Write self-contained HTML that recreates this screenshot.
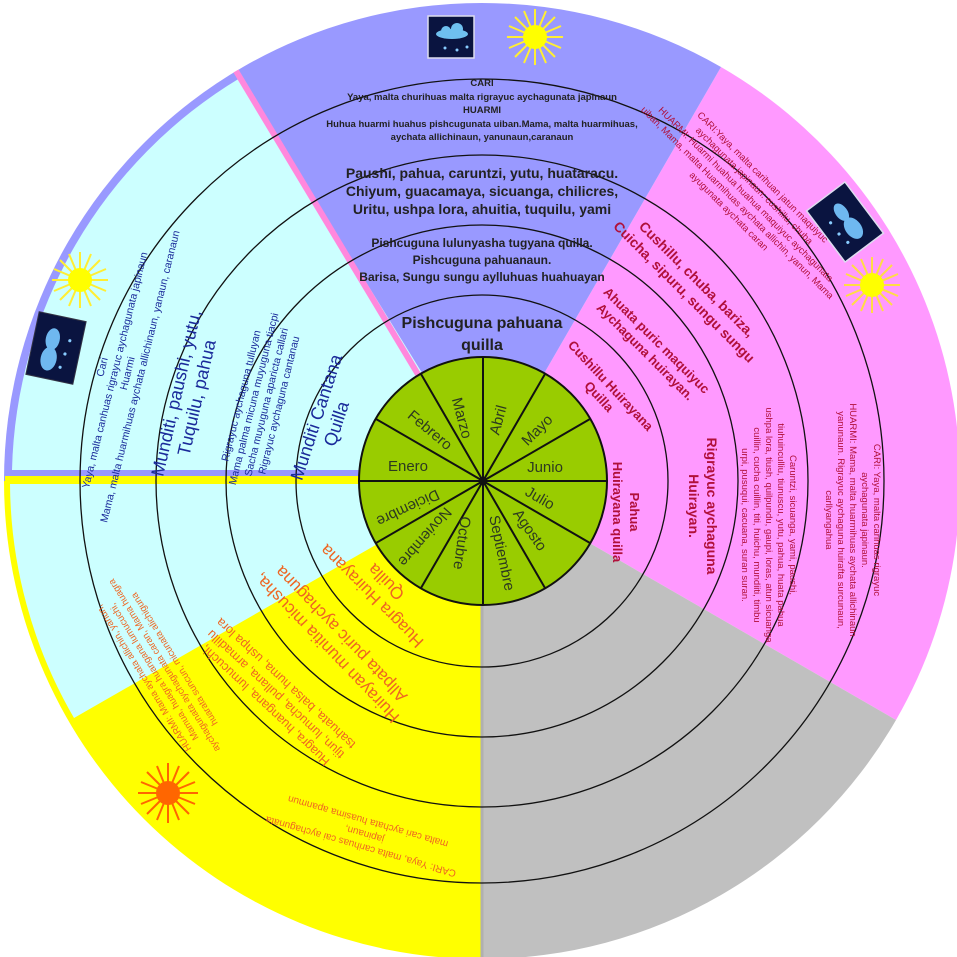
<!DOCTYPE html>
<html><head><meta charset="utf-8"><style>
html,body{margin:0;padding:0;background:#fff;}
svg{display:block;font-family:"Liberation Sans",sans-serif;}
</style></head><body>
<svg width="957" height="957" viewBox="0 0 957 957" xmlns="http://www.w3.org/2000/svg">
<!-- base wedges -->
<path d="M482,481 L721,67 A478,478 0 0 1 896,720 Z" fill="#ff99ff"/>
<path d="M482,481 L896,720 A478,478 0 0 1 482,959 Z" fill="#c0c0c0"/>
<path d="M482,481 L482,959 A478,478 0 0 1 4,481 Z" fill="#ffff00"/>
<path d="M482,481 L4,481 A478,478 0 0 1 721,67 Z" fill="#9999ff"/>
<!-- cyan -->
<path d="M482,470 L12,470 A470,470 0 0 1 240,78 Z" fill="#ccffff"/>
<path d="M482,484 L10,484 A472,472 0 0 0 74,718 Z" fill="#ccffff"/>
<rect x="5" y="476" width="477" height="6" fill="#ffff00"/>
<line x1="482" y1="959" x2="482" y2="485" stroke="#b0b0b0" stroke-width="3"/>
<!-- pink divider -->
<line x1="419" y1="376" x2="236" y2="71" stroke="#ff88dd" stroke-width="6"/>
<!-- rings -->
<g fill="none" stroke="#111" stroke-width="1.3">
<circle cx="482" cy="481" r="186"/>
<circle cx="482" cy="481" r="256"/>
<circle cx="482" cy="481" r="326"/>
<circle cx="482" cy="481" r="402"/>
</g>
<!-- green wheel -->
<circle cx="483" cy="481" r="124" fill="#99cc00" stroke="#111" stroke-width="2"/>
<g stroke="#111" stroke-width="2">
<line x1="359" y1="481" x2="607" y2="481"/>
<line x1="483" y1="357" x2="483" y2="605"/>
<line x1="376" y1="419" x2="590" y2="543"/>
<line x1="421" y1="374" x2="545" y2="588"/>
<line x1="545" y1="374" x2="421" y2="588"/>
<line x1="590" y1="419" x2="376" y2="543"/>
</g>
<circle cx="483" cy="481" r="4" fill="#111"/>
<g font-size="15" fill="#2d3a20" text-anchor="middle">
<text transform="translate(408,471)">Enero</text>
<text transform="translate(430,430) rotate(40)" dy="5">Febrero</text>
<text transform="translate(462,418) rotate(75)" dy="5">Marzo</text>
<text transform="translate(498,420) rotate(-75)" dy="5">Abril</text>
<text transform="translate(537,430) rotate(-45)" dy="5">Mayo</text>
<text transform="translate(545,472)">Junio</text>
<text transform="translate(540,498) rotate(30)" dy="5">Julio</text>
<text transform="translate(530,530) rotate(55)" dy="5">Agosto</text>
<text transform="translate(502,553) rotate(78)" dy="5">Septiembre</text>
<text transform="translate(462,543) rotate(98)" dy="5">Octubre</text>
<text transform="translate(425,537) rotate(131)" dy="5">Noviembre</text>
<text transform="translate(408,508) rotate(155)" dy="5">Diciembre</text>
</g>

<!-- icons -->
<g>
<rect x="428" y="16" width="46" height="42" fill="#0a1440" stroke="#dde" stroke-width="1.5"/>
<ellipse cx="452" cy="34" rx="16" ry="5" fill="#6fc0f0"/>
<circle cx="446" cy="31" r="5" fill="#6fc0f0"/><circle cx="457" cy="29" r="6" fill="#6fc0f0"/>
<circle cx="445" cy="48" r="1.5" fill="#8cf"/><circle cx="457" cy="50" r="1.5" fill="#8cf"/><circle cx="467" cy="47" r="1.5" fill="#8cf"/>
</g>
<g id="sun1" transform="translate(535,37)">
<g stroke="#ffee33" stroke-width="2"><line x1="-28" y1="0" x2="28" y2="0"/><line x1="0" y1="-28" x2="0" y2="28"/><line x1="-20" y1="-20" x2="20" y2="20"/><line x1="-20" y1="20" x2="20" y2="-20"/><line x1="-26" y1="-11" x2="26" y2="11"/><line x1="-26" y1="11" x2="26" y2="-11"/><line x1="-11" y1="-26" x2="11" y2="26"/><line x1="11" y1="-26" x2="-11" y2="26"/></g>
<circle r="12" fill="#ffff00"/></g>
<g transform="translate(80,280)">
<g stroke="#ffee33" stroke-width="2"><line x1="-28" y1="0" x2="28" y2="0"/><line x1="0" y1="-28" x2="0" y2="28"/><line x1="-20" y1="-20" x2="20" y2="20"/><line x1="-20" y1="20" x2="20" y2="-20"/><line x1="-26" y1="-11" x2="26" y2="11"/><line x1="-26" y1="11" x2="26" y2="-11"/><line x1="-11" y1="-26" x2="11" y2="26"/><line x1="11" y1="-26" x2="-11" y2="26"/></g>
<circle r="12" fill="#ffff00"/></g>
<g transform="translate(872,285)">
<g stroke="#ffdd44" stroke-width="2"><line x1="-28" y1="0" x2="28" y2="0"/><line x1="0" y1="-28" x2="0" y2="28"/><line x1="-20" y1="-20" x2="20" y2="20"/><line x1="-20" y1="20" x2="20" y2="-20"/><line x1="-26" y1="-11" x2="26" y2="11"/><line x1="-26" y1="11" x2="26" y2="-11"/><line x1="-11" y1="-26" x2="11" y2="26"/><line x1="11" y1="-26" x2="-11" y2="26"/></g>
<circle r="12" fill="#ffff00"/></g>
<g transform="translate(168,793)">
<g stroke="#ff6600" stroke-width="2"><line x1="-30" y1="0" x2="30" y2="0"/><line x1="0" y1="-30" x2="0" y2="30"/><line x1="-21" y1="-21" x2="21" y2="21"/><line x1="-21" y1="21" x2="21" y2="-21"/><line x1="-27" y1="-11" x2="27" y2="11"/><line x1="-27" y1="11" x2="27" y2="-11"/><line x1="-11" y1="-27" x2="11" y2="27"/><line x1="11" y1="-27" x2="-11" y2="27"/></g>
<circle r="12" fill="#ff6600"/></g>
<g transform="translate(56,348) rotate(12)">
<rect x="-24" y="-32" width="48" height="64" fill="#0a1440" stroke="#334" stroke-width="1"/>
<ellipse cx="-5" cy="-8" rx="7" ry="11" fill="#6fb8f0"/><ellipse cx="-5" cy="12" rx="8" ry="12" fill="#6fb8f0"/>
<circle cx="12" cy="-10" r="1.6" fill="#8cf"/><circle cx="10" cy="4" r="1.6" fill="#8cf"/><circle cx="8" cy="18" r="1.6" fill="#8cf"/></g>
<g transform="translate(845,222) rotate(-37)">
<rect x="-24" y="-32" width="48" height="64" fill="#0a1440" stroke="#dde" stroke-width="1.5"/>
<ellipse cx="3" cy="-10" rx="6" ry="10" fill="#6fb8f0"/><ellipse cx="3" cy="10" rx="8" ry="12" fill="#6fb8f0"/>
<circle cx="-12" cy="-8" r="1.6" fill="#8cf"/><circle cx="-12" cy="6" r="1.6" fill="#8cf"/><circle cx="-10" cy="18" r="1.6" fill="#8cf"/></g>

<!-- purple texts -->
<g fill="#222" font-weight="bold" text-anchor="middle">
<g font-size="9.5">
<text x="482" y="86">CARI</text>
<text x="482" y="100">Yaya, malta churihuas malta rigrayuc aychagunata japinaun</text>
<text x="482" y="113">HUARMI</text>
<text x="482" y="127">Huhua huarmi huahus pishcugunata uiban.Mama, malta huarmihuas,</text>
<text x="482" y="140">aychata allichinaun, yanunaun,caranaun</text>
</g>
<g font-size="14">
<text x="482" y="178">Paushi, pahua, caruntzi, yutu, huataracu.</text>
<text x="482" y="196">Chiyum, guacamaya, sicuanga, chilicres,</text>
<text x="482" y="214">Uritu, ushpa lora, ahuitia, tuquilu, yami</text>
</g>
<g font-size="12">
<text x="482" y="247">Pishcuguna lulunyasha tugyana quilla.</text>
<text x="482" y="264">Pishcuguna pahuanaun.</text>
<text x="482" y="281">Barisa, Sungu sungu aylluhuas huahuayan</text>
</g>
<g font-size="16">
<text x="482" y="328">Pishcuguna pahuana</text>
<text x="482" y="350">quilla</text>
</g>
</g>

<!-- cyan texts -->
<g fill="#1a2a9a" text-anchor="middle">
<text transform="translate(122,372) rotate(-76)" font-size="10.5"><tspan x="0" y="-17">Cari</tspan><tspan x="0" y="-4">Yaya, malta canhuas rigrayuc aychagunata japinaun</tspan><tspan x="0" y="9">Huarmi</tspan><tspan x="0" y="22">Mama, malta huarmihuas aychata allichinaun, yanaun, caranaun</tspan></text>
<text transform="translate(185,395) rotate(-77)" font-size="18"><tspan x="0" y="-3">Munditi, paushi, yutu,</tspan><tspan x="0" y="18">Tuquilu, pahua</tspan></text>
<text transform="translate(258,400) rotate(-76)" font-size="10.5"><tspan x="0" y="-14">Rigrayuc aychaguna tulluyan</tspan><tspan x="0" y="-1">Mama palma micuna  muyuguna tiacpi</tspan><tspan x="0" y="12">Sacha muyuguna aparicta callari</tspan><tspan x="0" y="25">Rigrayuc aychaguna cantanau</tspan></text>
<text transform="translate(325,420) rotate(-72)" font-size="18"><tspan x="0" y="-3">Munditi Cantana</tspan><tspan x="0" y="18">Quilla</tspan></text>
</g>

<!-- yellow texts -->
<g fill="#ee6622" text-anchor="middle">
<text transform="translate(378,590) rotate(225)" font-size="17"><tspan x="0" y="-3">Huagra Huirayana</tspan><tspan x="0" y="17">Quilla</tspan></text>
<text transform="translate(333,642) rotate(226)" font-size="17"><tspan x="0" y="-3">Huirayan munitia micusha,</tspan><tspan x="0" y="17">Allpata puric aychaguna</tspan></text>
<text transform="translate(275,695) rotate(223)" font-size="12.5"><tspan x="0" y="-10">Huagra, huangana, lumucuchi,</tspan><tspan x="0" y="5">tijun, lumucha, pullana, armadillu</tspan><tspan x="0" y="20">tsahuata, balsa huma, ushpa lora</tspan></text>
<text transform="translate(160,668) rotate(238)" font-size="9.5"><tspan x="0" y="-16">HUARMI: Mama aychata allichin, yanun,</tspan><tspan x="0" y="-4">Mamua, huagra huangana lumucuchi,</tspan><tspan x="0" y="8">aychagunata aychagunata caran, Mama huagra</tspan><tspan x="0" y="20">huarata suncun, micunata alichiguna</tspan></text>
<text transform="translate(365,832) rotate(196)" font-size="10"><tspan x="0" y="-12">CARI: Yaya, malta carihuas cai aychagunata</tspan><tspan x="0" y="1">japinaun,</tspan><tspan x="0" y="14">malta cari aychata huasima apanmun</tspan></text>
</g>

<!-- pink texts -->
<g fill="#b0103a" text-anchor="middle" font-weight="bold">
<text transform="translate(606,390) rotate(47)" font-size="13"><tspan x="0" y="-2">Cushillu Huirayana</tspan><tspan x="0" y="14">Quilla</tspan></text>
<text transform="translate(652,345) rotate(45)" font-size="13"><tspan x="0" y="-2">Ahuata puric maquiyuc</tspan><tspan x="0" y="14">Aychaguna huirayan.</tspan></text>
<text transform="translate(692,284) rotate(45)" font-size="14"><tspan x="0" y="-2">Cushillu, chuba, bariza,</tspan><tspan x="0" y="16">Cuicha, sipuru, sungu sungu</tspan></text>
<text transform="translate(626,512) rotate(90)" font-size="13"><tspan x="0" y="-4">Pahua</tspan><tspan x="0" y="13">Huirayana quilla</tspan></text>
<text transform="translate(703,506) rotate(90)" font-size="14"><tspan x="0" y="-4">Rigrayuc aychaguna</tspan><tspan x="0" y="14">Huirayan.</tspan></text>
</g>
<g fill="#b0103a" text-anchor="middle">
<text transform="translate(745,195) rotate(45)" font-size="9.5"><tspan x="0" y="-22">CARI:Yaya, malta carihuan jatun maquiyuc</tspan><tspan x="0" y="-10">aychagunata japinaun: cushillu, chuba</tspan><tspan x="0" y="2">HUARMI: Huarmi huahua huahua maquiyuc aychagunata</tspan><tspan x="0" y="14">uiban, Mama, malta Huarmihuas aychata allichin, yanun, Mama</tspan><tspan x="0" y="26">ayugunata aychata caran</tspan></text>
<text transform="translate(768,525) rotate(90)" font-size="9.5"><tspan x="0" y="-22">Caruntzi, sicuanga, yami, paushi,</tspan><tspan x="0" y="-10">tiuhuinculliu, tiunuscu, yutu, pahua, huata pahua</tspan><tspan x="0" y="2">ushpa lora, tiush, quilpundu, gaupi, loras, atun sicuanga</tspan><tspan x="0" y="14">cuillin, cucha cuillin, titi, huichu, mundiiti, timbu</tspan><tspan x="0" y="26">urpi, pusuqui, cacuana, suran suran.</tspan></text>
<text transform="translate(852,520) rotate(90)" font-size="9.5"><tspan x="0" y="-22">CARI: Yaya, malta carihuas rigrayuc</tspan><tspan x="0" y="-10">aychagunata japinaun.</tspan><tspan x="0" y="2">HUARMI: Mama, malta huarmihuas aychata allichinaun</tspan><tspan x="0" y="14">yanunaun. Rigrayuc aychaguna huirafta surcunaun,</tspan><tspan x="0" y="26">carllyangahua</tspan></text>
</g>
</svg>
</body></html>
